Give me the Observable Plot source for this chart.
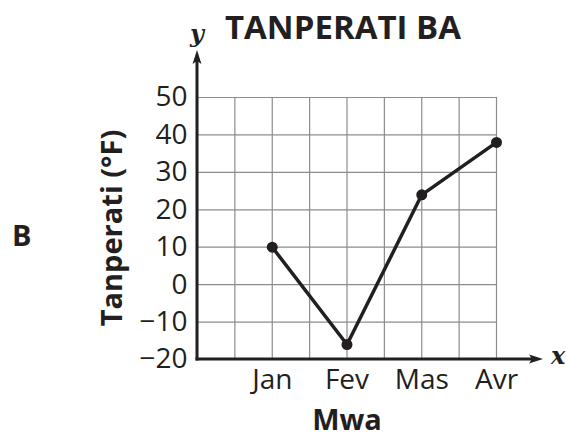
<!DOCTYPE html>
<html>
<head>
<meta charset="utf-8">
<script src="https://cdn.jsdelivr.net/npm/d3@7"></script>
<script src="https://cdn.jsdelivr.net/npm/@observablehq/plot@0.6"></script>
<style>
  html, body { margin: 0; padding: 0; background: #fff; }
  svg text { font-family: "Open Sans", "Noto Sans", sans-serif; }
</style>
</head>
<body>
<div id="chart"></div>
<script>
const months = ["Jan", "Fev", "Mas", "Avr"];
const temps = [10, -16, 24, 38];
const yTicks = [-20, -10, 0, 10, 20, 30, 40, 50];
const xGrid = [0, 1, 2, 3, 4, 5, 6, 7, 8];
const monthPos = [2, 4, 6, 8];
const title = "TANPERATI BA";
const yLabel = "Tanperati (°F)";
const xLabel = "Mwa";
const panelLabel = "B";

const data = months.map((m, i) => ({ month: m, x: monthPos[i], temp: temps[i] }));

const font = '"Open Sans", "Noto Sans", sans-serif';

const plot = Plot.plot({
  width: 566,
  height: 439,
  marginLeft: 197,
  marginRight: 70,
  marginTop: 97,
  marginBottom: 80,
  style: { fontFamily: font, background: "#fff", overflow: "visible" },
  x: { domain: [0, 8] },
  y: { domain: [-20, 50] },
  marks: [
    Plot.gridX(xGrid, { stroke: "#8c8c8c", strokeOpacity: 1, strokeWidth: 1.2 }),
    Plot.gridY(yTicks, { stroke: "#8c8c8c", strokeOpacity: 1, strokeWidth: 1.2 }),
    Plot.axisY(yTicks, { tickSize: 0, tickPadding: 10, fontSize: 28, fill: "#231f20", label: null }),
    Plot.axisX(monthPos, { tickSize: 0, tickPadding: 10, fontSize: 28, fill: "#231f20", label: null,
      tickFormat: (d) => months[monthPos.indexOf(d)] }),
    Plot.line(data, { x: "x", y: "temp", stroke: "#231f20", strokeWidth: 3.5 }),
    Plot.dot(data, { x: "x", y: "temp", r: 5.5, fill: "#231f20" })
  ]
});

document.getElementById("chart").appendChild(plot);

const svg = d3.select(plot);
const sx = plot.scale("x"), sy = plot.scale("y");
const x0 = sx.apply(0), y0 = sy.apply(-20);
const yTop = sy.apply(50) - 47;
const xEnd = sx.apply(8) + 47;
const ink = "#231f20";

const g = svg.append("g");
// axis lines with filled arrowheads
g.append("line").attr("x1", x0).attr("y1", y0 + 1.5).attr("x2", x0).attr("y2", yTop + 10)
  .attr("stroke", ink).attr("stroke-width", 3);
g.append("path").attr("d", `M${x0},${yTop} L${x0 - 4.5},${yTop + 14} L${x0},${yTop + 11} L${x0 + 4.5},${yTop + 14} Z`)
  .attr("fill", ink);
g.append("line").attr("x1", x0 - 1.5).attr("y1", y0).attr("x2", xEnd - 10).attr("y2", y0)
  .attr("stroke", ink).attr("stroke-width", 3);
g.append("path").attr("d", `M${xEnd},${y0} L${xEnd - 14},${y0 - 4.5} L${xEnd - 11},${y0} L${xEnd - 14},${y0 + 4.5} Z`)
  .attr("fill", ink);

// axis letters
g.append("text").attr("x", x0).attr("y", 42).attr("text-anchor", "middle")
  .style("font-family", '"DejaVu Serif", "Liberation Serif", serif').style("font-style", "italic")
  .style("font-weight", "bold").style("font-size", "24px").attr("fill", ink).text("y");
g.append("text").attr("x", xEnd + 8).attr("y", y0 + 5).attr("text-anchor", "start")
  .style("font-family", '"DejaVu Serif", "Liberation Serif", serif').style("font-style", "italic")
  .style("font-weight", "bold").style("font-size", "24px").attr("fill", ink).text("x");

// title
g.append("text").attr("x", 343).attr("y", 39).attr("text-anchor", "middle")
  .style("font-family", font).style("font-weight", "bold").style("font-size", "33px")
  .attr("fill", ink).text(title);

// x label
g.append("text").attr("x", 347).attr("y", 430).attr("text-anchor", "middle")
  .style("font-family", font).style("font-weight", "bold").style("font-size", "29px")
  .attr("fill", ink).text(xLabel);

// y label
g.append("text").attr("transform", `translate(122,${(sy.apply(50) + y0) / 2}) rotate(-90)`)
  .attr("text-anchor", "middle")
  .style("font-family", font).style("font-weight", "bold").style("font-size", "29px")
  .attr("fill", ink).text(yLabel);

// panel label
g.append("text").attr("x", 12).attr("y", 246).attr("text-anchor", "start")
  .style("font-family", font).style("font-weight", "bold").style("font-size", "29px")
  .attr("fill", ink).text(panelLabel);
</script>
</body>
</html>
